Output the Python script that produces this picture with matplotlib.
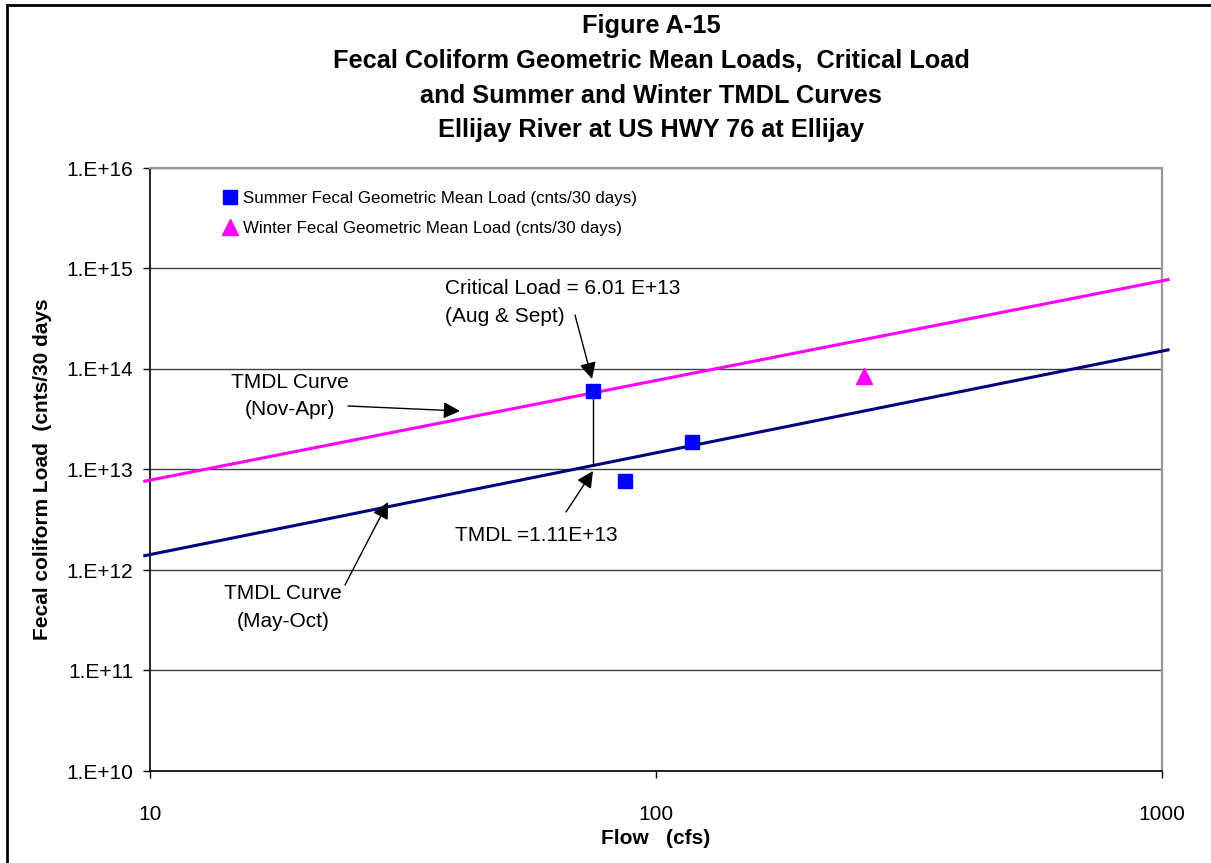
import numpy as np
import matplotlib
matplotlib.use("Agg")
import matplotlib.pyplot as plt
from matplotlib.ticker import FixedLocator, FuncFormatter, NullLocator
from matplotlib.lines import Line2D
from matplotlib.patches import Rectangle

plt.rcParams['font.family'] = ['Liberation Sans', 'DejaVu Sans']

# ---- data ----
title_lines = ["Figure A-15",
               "Fecal Coliform Geometric Mean Loads,  Critical Load",
               "and Summer and Winter TMDL Curves",
               "Ellijay River at US HWY 76 at Ellijay"]
x_label = "Flow   (cfs)"
y_label = "Fecal coliform Load  (cnts/30 days"

tmdl_flow = [9.7, 1035]
summer_tmdl = [1.38e12, 1.56e14]   # May-Oct curve
winter_tmdl = [7.6e12, 7.8e14]     # Nov-Apr curve

summer_flow = [75, 87, 118]
summer_load = [6.01e13, 7.7e12, 1.89e13]
winter_flow = [258]
winter_load = [8.5e13]

crit_flow = 75
crit_load = 6.01e13
tmdl_value = 1.11e13

x_ticks = [10, 100, 1000]
y_ticks = [1e10, 1e11, 1e12, 1e13, 1e14, 1e15, 1e16]

summer_label = "Summer Fecal Geometric Mean Load (cnts/30 days)"
winter_label = "Winter Fecal Geometric Mean Load (cnts/30 days)"

# ---- figure ----
W, H = 1211, 863
fig = plt.figure(figsize=(W / 100, H / 100), dpi=100)
ax = fig.add_axes([150 / W, 1 - 771 / H, (1162 - 150) / W, (771 - 168) / H])

ax.set_xscale('log')
ax.set_yscale('log')
ax.set_xlim(10, 1000)
ax.set_ylim(1e10, 1e16)

# grid lines
for v in y_ticks:
    ax.axhline(v, color='#404040', lw=1.0, zorder=1)

ax.plot(tmdl_flow, winter_tmdl, color='#FF00FF', lw=2.2, zorder=3, clip_on=False,
        solid_capstyle='butt')
ax.plot(tmdl_flow, summer_tmdl, color='#000080', lw=2.2, zorder=3, clip_on=False,
        solid_capstyle='butt')

ax.plot([crit_flow, crit_flow], [crit_load, tmdl_value], color='black', lw=1.0, zorder=3)

ax.plot(summer_flow, summer_load, linestyle='none', marker='s', ms=10.5,
        color='#0000FF', mec='#0000FF', zorder=5)
ax.plot(winter_flow, winter_load, linestyle='none', marker='^', ms=11,
        color='#FF00FF', mec='#FF00FF', zorder=5)

# ticks
ax.xaxis.set_major_locator(FixedLocator(x_ticks))
ax.xaxis.set_minor_locator(NullLocator())
ax.yaxis.set_major_locator(FixedLocator(y_ticks))
ax.yaxis.set_minor_locator(NullLocator())
ax.xaxis.set_major_formatter(FuncFormatter(lambda v, p: f"{int(round(v))}"))
ax.yaxis.set_major_formatter(FuncFormatter(lambda v, p: f"1.E+{int(round(np.log10(v)))}"))
ax.tick_params(axis='y', direction='out', length=5, width=1, pad=7, labelsize=15)
ax.tick_params(axis='x', direction='out', length=5, width=1, pad=19.5, labelsize=15)

for s in ['left', 'bottom']:
    ax.spines[s].set_color('black')
    ax.spines[s].set_linewidth(1.2)
for s in ['top', 'right']:
    ax.spines[s].set_color('#9a9a9a')
    ax.spines[s].set_linewidth(1.6)

ax.set_xlabel(x_label, fontsize=15, fontweight='bold', labelpad=3.5)
ax.set_ylabel(y_label, fontsize=15, fontweight='bold', labelpad=10.5)

# title
fig.text(651 / W, 1 - 14 / H, "\n".join(title_lines), ha='center', va='top',
         fontsize=18.3, fontweight='bold', linespacing=1.57)

# legend
handles = [Line2D([], [], linestyle='none', marker='s', ms=10, color='#0000FF'),
           Line2D([], [], linestyle='none', marker='^', ms=11, color='#FF00FF')]
ax.legend(handles, [summer_label, winter_label], loc='upper left',
          bbox_to_anchor=(0.071, 0.962), frameon=False, fontsize=12.2,
          handlelength=1.0, handletextpad=0.25, labelspacing=0.88, borderpad=0,
          borderaxespad=0)

# annotations
def fx(px):
    return (px - 150) / 1012

def fy(py):
    return (771 - py) / 603

arrow = dict(arrowstyle='-|>', mutation_scale=25, lw=1.0, color='black',
             shrinkA=0, shrinkB=0)

ax.text(fx(445), fy(302), "Critical Load = 6.01 E+13\n(Aug & Sept)", transform=ax.transAxes,
        ha='left', va='center', fontsize=15, linespacing=1.6)
ax.annotate("", xy=(fx(592), fy(379)), xytext=(fx(575), fy(315)),
            xycoords='axes fraction', textcoords='axes fraction', arrowprops=arrow)

ax.text(fx(290), fy(396), "TMDL Curve\n(Nov-Apr)", transform=ax.transAxes,
        ha='center', va='center', fontsize=15, linespacing=1.55)
ax.annotate("", xy=(fx(460), fy(411)), xytext=(fx(348), fy(406)),
            xycoords='axes fraction', textcoords='axes fraction', arrowprops=arrow)

ax.text(fx(283), fy(607), "TMDL Curve\n(May-Oct)", transform=ax.transAxes,
        ha='center', va='center', fontsize=15, linespacing=1.6)
ax.annotate("", xy=(fx(388), fy(502)), xytext=(fx(345), fy(585)),
            xycoords='axes fraction', textcoords='axes fraction', arrowprops=arrow)

ax.text(fx(455), fy(535), "TMDL =1.11E+13", transform=ax.transAxes,
        ha='left', va='center', fontsize=15)
ax.annotate("", xy=(fx(593), fy(471)), xytext=(fx(566), fy(512)),
            xycoords='axes fraction', textcoords='axes fraction', arrowprops=arrow)

# outer chart border (only left/top visible in the crop)
fig.add_artist(Rectangle((7 / W, -0.1), 1.2, 1 - 5 / H + 0.1, transform=fig.transFigure,
                         fill=False, edgecolor='black', lw=2.0))

fig.savefig("out.png", dpi=100)
